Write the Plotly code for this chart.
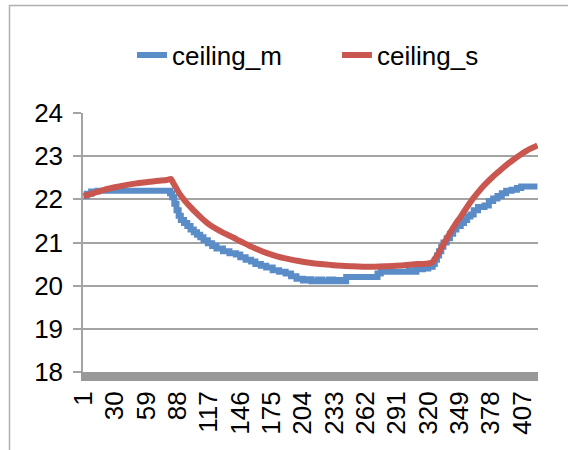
import plotly.graph_objects as go

# ---- data ----
n_categories = 421
tick_values = [1, 30, 59, 88, 117, 146, 175, 204, 233, 262, 291, 320, 349, 378, 407]
tick_labels = [str(v) for v in tick_values]

# ceiling_m (measured, stepwise)
m_x = [1, 4, 8, 14, 80, 81, 83, 85, 87, 89, 91, 94, 97, 100, 103, 106, 109, 112, 116, 120,
       124, 130, 136, 142, 146, 151, 156, 160, 165, 170, 176, 182, 188, 193, 198, 204, 208,
       212, 218, 222, 228, 232, 236, 240, 244, 273, 276, 302, 306, 309, 315, 320, 324, 326,
       328, 330, 332, 334, 337, 340, 343, 346, 350, 353, 356, 359, 362, 366, 372, 376, 380,
       384, 388, 392, 397, 402, 406, 421]
m_y = [22.08, 22.13, 22.18, 22.20, 22.20, 22.14, 22.05, 21.90, 21.75, 21.62, 21.52, 21.45,
       21.38, 21.30, 21.24, 21.18, 21.12, 21.05, 20.98, 20.92, 20.86, 20.80, 20.75, 20.72,
       20.66, 20.60, 20.56, 20.50, 20.46, 20.42, 20.36, 20.32, 20.28, 20.22, 20.16, 20.12,
       20.15, 20.10, 20.14, 20.10, 20.14, 20.10, 20.13, 20.10, 20.20, 20.28, 20.32, 20.36,
       20.32, 20.38, 20.40, 20.44, 20.50, 20.60, 20.70, 20.80, 20.90, 21.00, 21.10, 21.20,
       21.30, 21.38, 21.45, 21.52, 21.60, 21.65, 21.75, 21.82, 21.86, 21.96, 22.02, 22.08,
       22.14, 22.20, 22.22, 22.26, 22.30, 22.30]

# ceiling_s (simulated, smooth)
s_x = [1, 10, 20, 30, 40, 50, 60, 70, 78, 82, 84, 87, 90, 95, 100, 105, 110, 115, 120, 125,
       130, 135, 140, 145, 150, 155, 160, 165, 170, 180, 190, 200, 210, 220, 230, 240, 250,
       260, 270, 280, 290, 300, 310, 318, 323, 325, 330, 335, 340, 345, 350, 355, 360, 365,
       370, 375, 380, 385, 390, 395, 400, 405, 410, 415, 421]
s_y = [22.08, 22.14, 22.22, 22.28, 22.33, 22.37, 22.40, 22.43, 22.45, 22.47, 22.38, 22.25,
       22.12, 21.96, 21.82, 21.69, 21.57, 21.46, 21.37, 21.30, 21.23, 21.17, 21.11, 21.04,
       20.98, 20.92, 20.86, 20.81, 20.76, 20.68, 20.62, 20.57, 20.53, 20.50, 20.48, 20.46,
       20.45, 20.44, 20.44, 20.45, 20.46, 20.48, 20.50, 20.51, 20.53, 20.58, 20.78, 21.00,
       21.22, 21.42, 21.60, 21.79, 21.97, 22.13, 22.28, 22.41, 22.53, 22.64, 22.75, 22.85,
       22.94, 23.03, 23.11, 23.18, 23.25]

y_ticks = [18, 19, 20, 21, 22, 23, 24]

BLUE = "#5A8DC8"
RED = "#C9574F"
GRID = "#A3A3A3"
FONT = "Liberation Sans, Arial, sans-serif"

fig = go.Figure()
fig.add_trace(go.Scatter(x=m_x, y=m_y, name="ceiling_m", mode="lines",
                         line=dict(color=BLUE, width=6, shape="hv")))
fig.add_trace(go.Scatter(x=s_x, y=s_y, name="ceiling_s", mode="lines",
                         line=dict(color=RED, width=6, shape="spline", smoothing=0.5)))

L, R, T, B = 83, 30, 113, 78
W, H = 568, 450
pw, ph = W - L - R, H - T - B

fig.update_layout(
    width=W, height=H,
    margin=dict(l=L, r=R, t=T, b=B, pad=0),
    paper_bgcolor="white", plot_bgcolor="white",
    font=dict(family=FONT, size=26, color="black"),
    showlegend=True,
    legend=dict(orientation="h", x=(337 - L) / pw, xanchor="center",
                y=(H - B - 55) / ph, yanchor="middle",
                font=dict(size=26), bgcolor="rgba(0,0,0,0)",
                entrywidth=160, entrywidthmode="pixels", itemwidth=30),
    xaxis=dict(range=[0.5, n_categories + 0.5], tickmode="array",
               tickvals=tick_values, ticktext=tick_labels, tickangle=-90,
               showgrid=False, zeroline=False, showline=True,
               linecolor="#999999", linewidth=9, ticks="",
               tickfont=dict(size=26)),
    yaxis=dict(range=[18, 24], tickmode="array", tickvals=y_ticks,
               showgrid=True, gridcolor=GRID, gridwidth=1.5, zeroline=False,
               showline=True, linecolor=GRID, linewidth=1.5,
               ticks="outside", ticklen=8, tickcolor=GRID, tickwidth=1.5,
               ticklabelstandoff=5, tickfont=dict(size=26)),
    shapes=[dict(type="rect", xref="paper", yref="paper",
                 x0=(9.5 - L) / pw, x1=(W + 20 - L) / pw,
                 y0=-(B + 20) / ph, y1=(H - B - 5.5) / ph,
                 line=dict(color="#B0B0B0", width=1.5), fillcolor="rgba(0,0,0,0)",
                 layer="below")],
)

fig.write_html("out.html", config={"displayModeBar": False},
               post_script="document.body.style.margin='0';")
